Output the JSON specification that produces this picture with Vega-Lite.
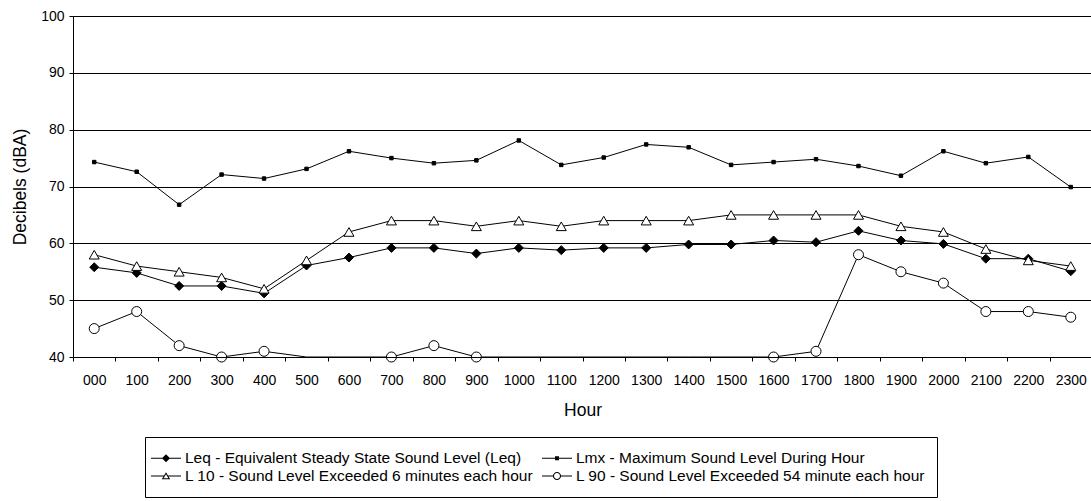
{
  "$schema": "https://vega.github.io/schema/vega-lite/v6.json",
  "width": 1019,
  "height": 341,
  "autosize": {"type": "none"},
  "padding": {"left": 73, "top": 16, "right": 0, "bottom": 144},
  "background": "white",
  "config": {
    "view": {"stroke": null},
    "font": "Liberation Sans",
    "axis": {
      "labelFont": "Liberation Sans",
      "titleFont": "Liberation Sans",
      "labelColor": "#000000",
      "titleColor": "#000000",
      "titleFontWeight": "normal",
      "domainColor": "#000000",
      "tickColor": "#000000",
      "gridColor": "#000000",
      "gridOpacity": 1,
      "labelFontSize": 14,
      "titleFontSize": 17.5
    }
  },
  "data": {
    "values": [
      {"hour": "000", "Leq": 55.8, "Lmx": 74.3, "L10": 58, "L90": 45},
      {"hour": "100", "Leq": 54.8, "Lmx": 72.6, "L10": 56, "L90": 48},
      {"hour": "200", "Leq": 52.5, "Lmx": 66.8, "L10": 55, "L90": 42},
      {"hour": "300", "Leq": 52.5, "Lmx": 72.1, "L10": 54, "L90": 40},
      {"hour": "400", "Leq": 51.2, "Lmx": 71.4, "L10": 52, "L90": 41},
      {"hour": "500", "Leq": 56.1, "Lmx": 73.1, "L10": 57, "L90": 38},
      {"hour": "600", "Leq": 57.5, "Lmx": 76.2, "L10": 62, "L90": 38},
      {"hour": "700", "Leq": 59.2, "Lmx": 75.0, "L10": 64, "L90": 40},
      {"hour": "800", "Leq": 59.2, "Lmx": 74.1, "L10": 64, "L90": 42},
      {"hour": "900", "Leq": 58.2, "Lmx": 74.6, "L10": 63, "L90": 40},
      {"hour": "1000", "Leq": 59.2, "Lmx": 78.1, "L10": 64, "L90": 38},
      {"hour": "1100", "Leq": 58.8, "Lmx": 73.8, "L10": 63, "L90": 38},
      {"hour": "1200", "Leq": 59.2, "Lmx": 75.1, "L10": 64, "L90": 38},
      {"hour": "1300", "Leq": 59.2, "Lmx": 77.4, "L10": 64, "L90": 38},
      {"hour": "1400", "Leq": 59.8, "Lmx": 76.9, "L10": 64, "L90": 38},
      {"hour": "1500", "Leq": 59.8, "Lmx": 73.8, "L10": 65, "L90": 38},
      {"hour": "1600", "Leq": 60.5, "Lmx": 74.3, "L10": 65, "L90": 40},
      {"hour": "1700", "Leq": 60.2, "Lmx": 74.8, "L10": 65, "L90": 41},
      {"hour": "1800", "Leq": 62.2, "Lmx": 73.6, "L10": 65, "L90": 58},
      {"hour": "1900", "Leq": 60.5, "Lmx": 71.9, "L10": 63, "L90": 55},
      {"hour": "2000", "Leq": 59.9, "Lmx": 76.2, "L10": 62, "L90": 53},
      {"hour": "2100", "Leq": 57.3, "Lmx": 74.1, "L10": 59, "L90": 48},
      {"hour": "2200", "Leq": 57.3, "Lmx": 75.2, "L10": 57, "L90": 48},
      {"hour": "2300", "Leq": 55.1, "Lmx": 69.9, "L10": 56, "L90": 47}
    ]
  },
  "transform": [
    {"fold": ["Leq", "Lmx", "L10", "L90"], "as": ["series", "dB"]}
  ],
  "encoding": {
    "x": {
      "field": "hour",
      "type": "ordinal",
      "sort": null,
      "scale": {"type": "band", "paddingInner": 0, "paddingOuter": 0},
      "axis": {
        "title": "Hour",
        "labelAngle": 0,
        "tickBand": "extent",
        "tickSize": 4,
        "labelPadding": 12,
        "titlePadding": 14,
        "grid": false,
        "zindex": 1
      }
    },
    "y": {
      "field": "dB",
      "type": "quantitative",
      "scale": {"domain": [40, 100], "clamp": true, "nice": false, "zero": false},
      "axis": {
        "title": "Decibels (dBA)",
        "values": [40, 50, 60, 70, 80, 90, 100],
        "tickSize": 4,
        "labelPadding": 5,
        "titlePadding": 11,
        "grid": true,
        "zindex": 1
      }
    }
  },
  "layer": [
    {
      "mark": {"type": "line", "color": "#000000", "strokeWidth": 1},
      "encoding": {"detail": {"field": "series"}}
    },
    {
      "transform": [{"filter": "datum.dB >= 40"}],
      "mark": {"type": "point", "filled": true, "stroke": "#000000", "strokeWidth": 1, "opacity": 1},
      "encoding": {
        "shape": {
          "field": "series",
          "scale": {"domain": ["Leq", "Lmx", "L10", "L90"], "range": ["diamond", "square", "triangle-up", "circle"]},
          "legend": null
        },
        "fill": {
          "field": "series",
          "scale": {"domain": ["Leq", "Lmx", "L10", "L90"], "range": ["#000000", "#000000", "#ffffff", "#ffffff"]},
          "legend": null
        },
        "size": {
          "field": "series",
          "type": "nominal",
          "scale": {"type": "ordinal", "domain": ["Leq", "Lmx", "L10", "L90"], "range": [81, 12, 100, 100]},
          "legend": null
        }
      }
    },
    {
      "mark": {"type": "point", "filled": true, "color": "#000000", "opacity": 0, "strokeWidth": 0},
      "encoding": {
        "shape": {
          "field": "series",
          "scale": {
            "domain": ["Leq", "Lmx", "L10", "L90"],
            "range": [
              "M-1.667,-0.058H1.667V0.058H-1.667Z M-0.45,0L0,-0.45L0.45,0L0,0.45Z",
              "M-1.667,-0.058H1.667V0.058H-1.667Z M-0.22,-0.22H0.22V0.22H-0.22Z",
              "M-1.667,-0.058H-0.23V0.058H-1.667Z M0.23,-0.058H1.667V0.058H0.23Z M0,-0.42L0.47,0.37L-0.47,0.37Z M0,-0.2L-0.27,0.255L0.27,0.255Z",
              "M-1.667,-0.058H-0.43V0.058H-1.667Z M0.43,-0.058H1.667V0.058H0.43Z M-0.45,0A0.45,0.45 0 1,1 0.45,0A0.45,0.45 0 1,1 -0.45,0Z M-0.33,0A0.33,0.33 0 1,0 0.33,0A0.33,0.33 0 1,0 -0.33,0Z"
            ]
          },
          "legend": {
            "title": null,
            "orient": "none",
            "legendX": 72,
            "legendY": 421,
            "columns": 2,
            "direction": "horizontal",
            "symbolSize": 324,
            "symbolStrokeWidth": 0,
            "symbolFillColor": "#000000",
            "symbolOpacity": 1,
            "labelFont": "Liberation Sans",
            "labelFontSize": 15.5,
            "labelColor": "#000000",
            "labelOffset": 10,
            "labelLimit": 500,
            "strokeColor": "#000000",
            "padding": 12,
            "rowPadding": 0,
            "columnPadding": 7,
            "labelExpr": "datum.value == 'Leq' ? 'Leq - Equivalent Steady State Sound Level (Leq)' : datum.value == 'Lmx' ? 'Lmx - Maximum Sound Level During Hour' : datum.value == 'L10' ? 'L 10 - Sound Level Exceeded 6 minutes each hour' : 'L 90 - Sound Level Exceeded 54 minute each hour'"
          }
        }
      }
    }
  ],
  "resolve": {"scale": {"shape": "independent"}}
}
